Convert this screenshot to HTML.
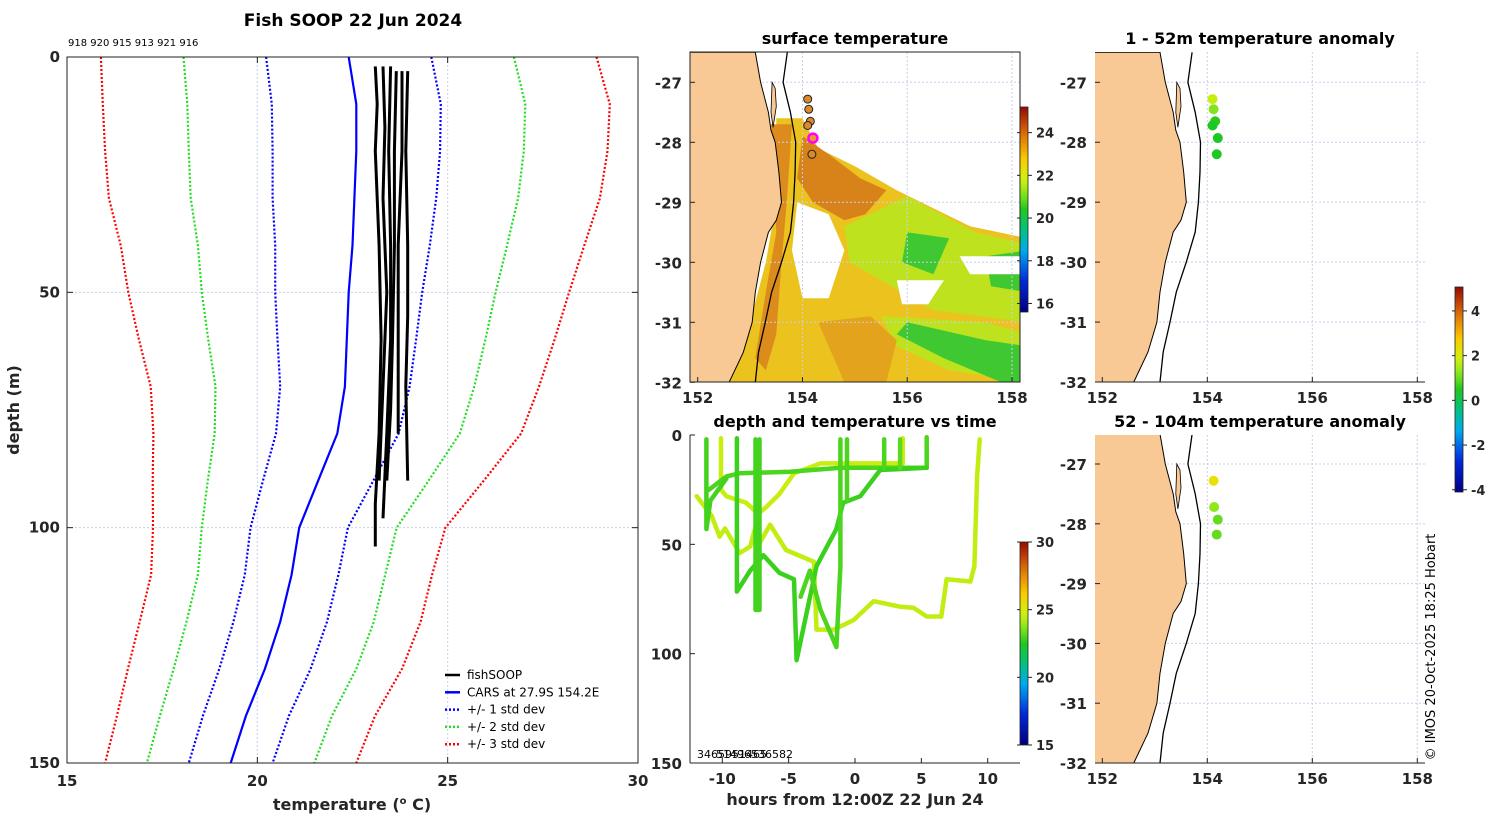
<!DOCTYPE html>
<html><head><meta charset="utf-8"><style>
html,body{margin:0;padding:0;background:#fff;width:1500px;height:820px;overflow:hidden}
svg{display:block;font-family:"DejaVu Sans","Liberation Sans",sans-serif}
.tk{font-weight:bold;font-size:15px;fill:#262626}
.pl{font-weight:normal;fill:#000}
.ttl{font-weight:bold;font-size:16px;fill:#000}
</style></head><body>
<svg id="s" width="1500" height="820" viewBox="0 0 1500 820" xmlns="http://www.w3.org/2000/svg"></svg>
<script>
// ---------- data ----------
const profDepths=[0,10,20,30,40,50,60,70,80,90,100,110,120,130,140,150];
const carsMean=[22.4,22.6,22.6,22.55,22.5,22.4,22.35,22.3,22.1,21.6,21.1,20.9,20.6,20.2,19.7,19.3];
const carsStd=[2.17,2.22,2.2,2.15,2.03,1.93,1.82,1.7,1.61,1.45,1.28,1.23,1.23,1.2,1.13,1.1];
const soopIds=["918","920","915","913","921","916"];
const soopDepths=[[2,10,20,40,60,80,95,104],[2,15,30,50,70,90],[2,20,40,60,80,98],[3,20,40,60,75,90],[3,20,40,60,80],[3,20,40,55,70,90]];
const soopTemps=[[23.1,23.15,23.1,23.2,23.25,23.2,23.1,23.1],[23.3,23.35,23.3,23.4,23.3,23.2],[23.5,23.45,23.5,23.5,23.4,23.3],[23.65,23.6,23.6,23.55,23.5,23.4],[23.8,23.8,23.7,23.7,23.7],[23.95,23.9,23.95,23.95,23.9,23.95]];
const coastLon=[153.1,153.2,153.35,153.4,153.48,153.55,153.6,153.5,153.35,153.2,153.1,153.04,152.87,152.6];
const coastLat=[-26.5,-27.0,-27.5,-27.8,-28.0,-28.5,-29.0,-29.3,-29.5,-30.0,-30.5,-31.0,-31.5,-32.0];
const isoLon=[153.71,153.63,153.77,153.87,153.86,153.83,153.77,153.6,153.41,153.29,153.16,153.1];
const isoLat=[-26.5,-27.0,-27.5,-28.0,-28.5,-29.0,-29.5,-30.0,-30.5,-31.0,-31.5,-32.0];
const stnLon=[154.1,154.12,154.15,154.1,154.2,154.18];
const stnLat=[-27.28,-27.45,-27.65,-27.72,-27.93,-28.2];
const anomTop=[1.8,1.2,0.6,0.5,0.5,0.5];
const anomBotLat=[-27.28,-27.72,-27.93,-28.18];
const anomBotLon=[154.12,154.13,154.2,154.18];
const anomBot=[2.3,1.3,1.0,1.0];
const trackHours=[
[-11.93,-10.8,-10.2,-9.8,-8.7,-7.9,-7.5,-7.2,-6.4,-5.2,-3.1,-2.9,-1.6,-0.1,1.4,3.4,4.4,5.4,6.5,6.9,8.7,9.0,9.2,9.4],
[-10.1,-10.1,-9.7,-8.2,-7.3,-6.7,-5.7,-4.6,-2.6,-0.1,3.6,3.6],
[-11.0,-9.7,-8.7,-4.9,-1.1,5.4,5.4],
[-8.9,-8.9,-7.9,-6.9,-5.7,-4.6,-4.4,-2.9,-1.4,-0.9,0.4,1.9,5.4],
[-11.2,-11.2,-10.9,-9.7],
[-4.1,-3.4,-2.6,-1.4,-1.1,-1.1],
[-7.5,-7.5,-7.2,-7.2],
[-0.6,-0.6],[2.2,2.2],[3.4,3.4]];
const trackDepths=[
[28,37,46.5,42.7,54,51,42,49.5,41,52.6,58,89,89,84.6,76,78.5,79,83,83,66,67,60,19,2],
[1.5,25,28,31,36,33,27,17.5,13,13,13,1.5],
[25,19,17.5,16.8,15,15,1],
[1.5,71.6,62,55,63,66,103,60,43,31,28,16,15],
[2,43,30,20],
[74,62,80,97,60,2],
[2,80,80,2],[2,30],[2,15],[2,15]];
const trackTemp=[24.5,24.6,23.0,22.8,22.9,23.0,22.9,23.0,23.0,23.2];
const titles=["Fish SOOP 22 Jun 2024","surface temperature","depth and temperature vs time","1 - 52m temperature anomaly","52 - 104m temperature anomaly"];

// ---------- helpers ----------
const S=document.getElementById('s');const NS="http://www.w3.org/2000/svg";
function E(tag,a,p){const e=document.createElementNS(NS,tag);for(const k in a)e.setAttribute(k,a[k]);(p||S).appendChild(e);return e;}
function T(x,y,s,cls,anchor,p){const e=E('text',{x:x,y:y,'class':cls||'tk','text-anchor':anchor||'middle'},p);e.textContent=s;return e;}
function lin(d0,d1,r0,r1){return v=>r0+(v-d0)*(r1-r0)/(d1-d0);}
function pts(xs,ys,fx,fy){return xs.map((v,i)=>fx(v).toFixed(1)+','+fy(ys[i]).toFixed(1)).join(' ');}
function cmapJet(t){const st=[[0,[0,0,128]],[0.15,[0,40,220]],[0.3,[0,170,240]],[0.38,[0,190,150]],[0.5,[30,200,30]],[0.58,[140,230,30]],[0.66,[220,240,10]],[0.75,[250,200,0]],[0.87,[220,110,10]],[1,[150,10,0]]];
 t=Math.max(0,Math.min(1,t));for(let i=1;i<st.length;i++){if(t<=st[i][0]){const a=st[i-1],b=st[i],f=(t-a[0])/(b[0]-a[0]);return 'rgb('+a[1].map((c,j)=>Math.round(c+(b[1][j]-c)*f)).join(',')+')';}}return 'rgb(150,10,0)';}
let gid=0;
function colorbar(x,y,w,h,vmin,vmax,ticks,name){
 const id='g'+(gid++);const d=E('defs',{});const g=E('linearGradient',{id:id,x1:0,y1:1,x2:0,y2:0},d);
 for(let i=0;i<=20;i++)E('stop',{offset:i/20,'stop-color':cmapJet(i/20)},g);
 const r=E('rect',{x:x,y:y,width:w,height:h,fill:'url(#'+id+')',stroke:'#222','stroke-width':0.8});
 
 
 const fy=lin(vmin,vmax,y+h,y);
 ticks.forEach(v=>{E('line',{x1:x+w,x2:x+w+4,y1:fy(v),y2:fy(v),stroke:'#222'});E('line',{x1:x-3,x2:x,y1:fy(v),y2:fy(v),stroke:'#222'});
  const t=T(x+w+8,fy(v)+5,String(v),'tk','start');t.style.fontSize='13px';});
}

// ---------- left profile panel ----------
(function(){
 const X0=67,X1=638,Y0=57,Y1=763;
 const fx=lin(15,30,X0,X1),fy=lin(0,150,Y0,Y1);
 const g=E('g',{});
 [20,25].forEach(v=>E('line',{x1:fx(v),x2:fx(v),y1:Y0,y2:Y1,stroke:'#c8d0ea','stroke-width':1,'stroke-dasharray':'2,2'},g));
 [50,100].forEach(v=>E('line',{x1:X0,x2:X1,y1:fy(v),y2:fy(v),stroke:'#c8d0ea','stroke-width':1,'stroke-dasharray':'2,2'},g));
 const cols=['#0000ff','#22dd22','#ff0000'];
 [1,2,3].forEach(k=>{[-1,1].forEach(sg=>{
  const xs=carsMean.map((m,i)=>m+sg*k*carsStd[i]);
  const l=E('polyline',{points:pts(xs,profDepths,fx,fy),fill:'none',stroke:cols[k-1],'stroke-width':2.2,'stroke-dasharray':'2,2'},g);
  
  
 });});
 const c=E('polyline',{points:pts(carsMean,profDepths,fx,fy),fill:'none',stroke:'#0000ff','stroke-width':2.2},g);
 
 
 soopTemps.forEach((ts,i)=>{const l=E('polyline',{points:pts(ts,soopDepths[i],fx,fy),fill:'none',stroke:'#000','stroke-width':3,'stroke-linejoin':'round'},g);
  
  });
 E('rect',{x:X0,y:Y0,width:X1-X0,height:Y1-Y0,fill:'none',stroke:'#222','stroke-width':1},g);
 [15,20,25,30].forEach(v=>{E('line',{x1:fx(v),x2:fx(v),y1:Y1,y2:Y1-6,stroke:'#222'},g);E('line',{x1:fx(v),x2:fx(v),y1:Y0,y2:Y0+6,stroke:'#222'},g);T(fx(v),Y1+23,String(v));});
 [0,50,100,150].forEach(v=>{E('line',{x1:X0,x2:X0+6,y1:fy(v),y2:fy(v),stroke:'#222'},g);E('line',{x1:X1,x2:X1-6,y1:fy(v),y2:fy(v),stroke:'#222'},g);T(X0-7,fy(v)+5,String(v),'tk','end');});
 const xt=T(352,810,'','tk');xt.innerHTML='temperature (<tspan dy="-6" font-size="10">o</tspan><tspan dy="6"> C)</tspan>';xt.style.fontSize='16px';
 
 const yt=T(0,0,'depth (m)','tk');yt.setAttribute('transform','translate(19,410) rotate(-90)');yt.style.fontSize='16px';
 
 const tt=T(353,26,titles[0],'ttl');tt.style.fontSize='17px';
 const ids=T(68,46,soopIds.join(' '),'pl','start');ids.style.fontSize='10px';
 
 const lg=E('g',{});
 const labs=['fishSOOP','CARS at 27.9S 154.2E','+/- 1 std dev','+/- 2 std dev','+/- 3 std dev'];
 const lc=['#000','#0000ff','#0000ff','#22dd22','#ff0000'];
 labs.forEach((s,i)=>{const y=675+i*17.3;E('line',{x1:445,x2:460,y1:y,y2:y,stroke:lc[i],'stroke-width':2.5,'stroke-dasharray':i<2?'none':'2,2'},lg);
  const t=T(467,y+4,s,'pl','start',lg);t.style.fontSize='12px';});
})();

function drawLand(g,fx,fy){
 const xs=[151.8].concat(coastLon,[151.8]);const ys=[coastLat[0]].concat(coastLat,[-32]);
 const p=E('polygon',{points:pts(xs,ys,fx,fy),fill:'#f9c995',stroke:'#000','stroke-width':1},g);
 
 E('polygon',{points:pts([153.42,153.48,153.5,153.44,153.4],[-27.0,-27.1,-27.4,-27.75,-27.5],fx,fy),fill:'#f9c995',stroke:'#000','stroke-width':0.8},g);
 const iso=E('polyline',{points:pts(isoLon,isoLat,fx,fy),fill:'none',stroke:'#000','stroke-width':1.3},g);
 
}
function grid(g,fx,fy,X0,X1,Y0,Y1){
 [154,156,158].forEach(v=>E('line',{x1:fx(v),x2:fx(v),y1:Y0,y2:Y1,stroke:'#c8d0ea','stroke-dasharray':'2,2'},g));
 [-27,-28,-29,-30,-31].forEach(v=>E('line',{x1:X0,x2:X1,y1:fy(v),y2:fy(v),stroke:'#c8d0ea','stroke-dasharray':'2,2'},g));
}
function mapTicks(g,fx,fy,X0,X1,Y1){
 [152,154,156,158].forEach(v=>{E('line',{x1:fx(v),x2:fx(v),y1:Y1,y2:Y1-5,stroke:'#222'},g);T(fx(v),Y1+21,String(v),'tk','middle',g);});
 [-27,-28,-29,-30,-31,-32].forEach(v=>{E('line',{x1:X0,x2:X0+5,y1:fy(v),y2:fy(v),stroke:'#222'},g);T(X0-8,fy(v)+6,String(v),'tk','end',g);});
}

// surface temperature map
(function(){
 const X0=690,X1=1020,Y0=52,Y1=382;
 const fx=lin(152,158,697.7,1012),fy=lin(-27,-32,82.3,382.3);
 const g=E('g',{});
 const cp=E('clipPath',{id:'c1'},E('defs',{}));E('rect',{x:X0,y:Y0,width:X1-X0,height:Y1-Y0},cp);
 const inner=E('g',{'clip-path':'url(#c1)'},g);
 const shapes=[
  ['#ecc21e',[153.5,154,154.3,155,155.8,156.5,157.2,158.3,158.3,152.6,153.0,153.3,153.5],[-27.6,-27.6,-28.1,-28.4,-28.8,-29.1,-29.4,-29.6,-32,-32,-31,-30,-29]],
  ['#dc8c1c',[153.4,153.8,153.7,153.6,153.5,153.3,153.1,153.3,153.5],[-27.7,-27.7,-29,-30,-31.2,-31.8,-31.6,-30.5,-29.5]],
  ['#d8821a',[154,154.5,155.1,155.6,155.2,154.8,154.2,153.9],[-27.9,-28.2,-28.6,-28.8,-29.2,-29.3,-29.0,-28.6]],
  ['#bfe21e',[154.8,156,157.3,158.3,158.3,156.5,155.5,154.9],[-29.4,-28.9,-29.5,-29.7,-31.0,-30.8,-30.3,-30.0]],
  ['#bfe21e',[155.5,157.5,158.3,158.3,156.8,155.8],[-30.9,-31.0,-31.2,-32,-31.8,-31.4]],
  ['#3fc832',[156.0,156.8,156.5,155.9],[-29.5,-29.6,-30.2,-30.0]],
  ['#3fc832',[157.5,158.3,158.3,157.6],[-29.9,-29.8,-30.5,-30.4]],
  ['#3fc832',[156.0,157.5,158.3,158.3,157.8,156.7,155.8],[-31.0,-31.3,-31.4,-32,-32,-31.6,-31.2]],
  ['#ffffff',[153.9,154.5,154.8,154.5,154.0,153.8],[-29.0,-29.2,-29.8,-30.6,-30.6,-29.8]],
  ['#ffffff',[155.8,156.7,156.4,155.9],[-30.3,-30.3,-30.7,-30.7]],
  ['#ffffff',[157.0,158.3,158.3,157.2],[-29.9,-29.9,-30.2,-30.2]],
  ['#e3a31d',[154.3,155.3,155.8,155.6,154.8],[-31.0,-30.9,-31.3,-32,-32]]];
 shapes.forEach((s,i)=>{const p=E('polygon',{points:pts(s[1],s[2],fx,fy),fill:s[0]},inner);
  });
 grid(inner,fx,fy,X0,X1,Y0,Y1);
 drawLand(inner,fx,fy);
 stnLon.forEach((lo,i)=>{if(i===4)return;const c=E('circle',{cx:fx(lo),cy:fy(stnLat[i]),r:4,fill:'#d98a2a',stroke:'#222','stroke-width':1},g);
  });
 const m=E('circle',{cx:fx(stnLon[4]),cy:fy(stnLat[4]),r:4.5,fill:'#e99a2a',stroke:'#ff00ff','stroke-width':2.5},g);
 
 E('rect',{x:X0,y:Y0,width:X1-X0,height:Y1-Y0,fill:'none',stroke:'#222'},g);
 mapTicks(g,fx,fy,X0,X1,Y1);
 const t=T(855,44,titles[1],'ttl');
 colorbar(1020,107,8,205,15.6,25.2,[16,18,20,22,24],'sst-colorbar');
})();

function anomMap(Y0,Y1,latTopY,lons,lats,vals,title,ty,name){
 const X0=1095,X1=1425;
 const fx=lin(152,158,1102.3,1417.3),fy=lin(-27,-32,latTopY,Y1);
 const g=E('g',{});
 const id='c'+name;const cp=E('clipPath',{id:id},E('defs',{}));E('rect',{x:X0,y:Y0,width:X1-X0,height:Y1-Y0},cp);
 const inner=E('g',{'clip-path':'url(#'+id+')'},g);
 grid(inner,fx,fy,X0,X1,Y0,Y1);
 drawLand(inner,fx,fy);
 lons.forEach((lo,i)=>{const c=E('circle',{cx:fx(lo),cy:fy(lats[i]),r:5,fill:cmapJet((vals[i]+4.0)/9.07)},g);
  });
 E('line',{x1:X0,x2:X1,y1:Y1,y2:Y1,stroke:'#222'},g);
 mapTicks(g,fx,fy,X0,X1,Y1);
 const t=T(1260,ty,title,'ttl');
}
anomMap(52,382,82.3,stnLon,stnLat,anomTop,titles[3],44,'anomaly-map-shallow');
anomMap(435,763,464,anomBotLon,anomBotLat,anomBot,titles[4],427,'anomaly-map-deep');
colorbar(1455,287,8,205,-4.1,5.07,[-4,-2,0,2,4],'anomaly-colorbar');

(function(){
 const X0=690,X1=1020,Y0=435,Y1=763;
 const fx=lin(0,10,855,987.7),fy=lin(0,150,435,763);
 const g=E('g',{});
 trackHours.forEach((hs,i)=>{const l=E('polyline',{points:pts(hs,trackDepths[i],fx,fy),fill:'none',stroke:cmapJet((trackTemp[i]-15)/15),'stroke-width':4.5,'stroke-linejoin':'round','stroke-linecap':'round'},g);
  });
 E('line',{x1:X0,x2:X0,y1:Y0,y2:Y1,stroke:'#222'},g);E('line',{x1:X0,x2:X1,y1:Y1,y2:Y1,stroke:'#222'},g);
 [-10,-5,0,5,10].forEach(v=>{E('line',{x1:fx(v),x2:fx(v),y1:Y1,y2:Y1-5,stroke:'#222'},g);T(fx(v),Y1+21,String(v),'tk','middle',g);});
 [0,50,100,150].forEach(v=>{E('line',{x1:X0,x2:X0+5,y1:fy(v),y2:fy(v),stroke:'#222'},g);T(X0-8,fy(v)+6,String(v),'tk','end',g);});
 const t=T(855,427,titles[2],'ttl');
 const xt=T(855,805,'hours from 12:00Z 22 Jun 24','tk');xt.style.fontSize='16px';
 
 const a=T(697,758,'3465951465','pl','start');a.style.fontSize='11px';
 const b=T(716,758,'51496536582','pl','start');b.style.fontSize='11px';
 colorbar(1020,542,8,203,15,30,[15,20,25,30],'time-colorbar');
})();

const cr=T(0,0,'© IMOS 20-Oct-2025 18:25 Hobart','pl','middle');cr.style.fontSize='13px';cr.setAttribute('transform','translate(1435,647) rotate(-90)');

</script>
</body></html>
